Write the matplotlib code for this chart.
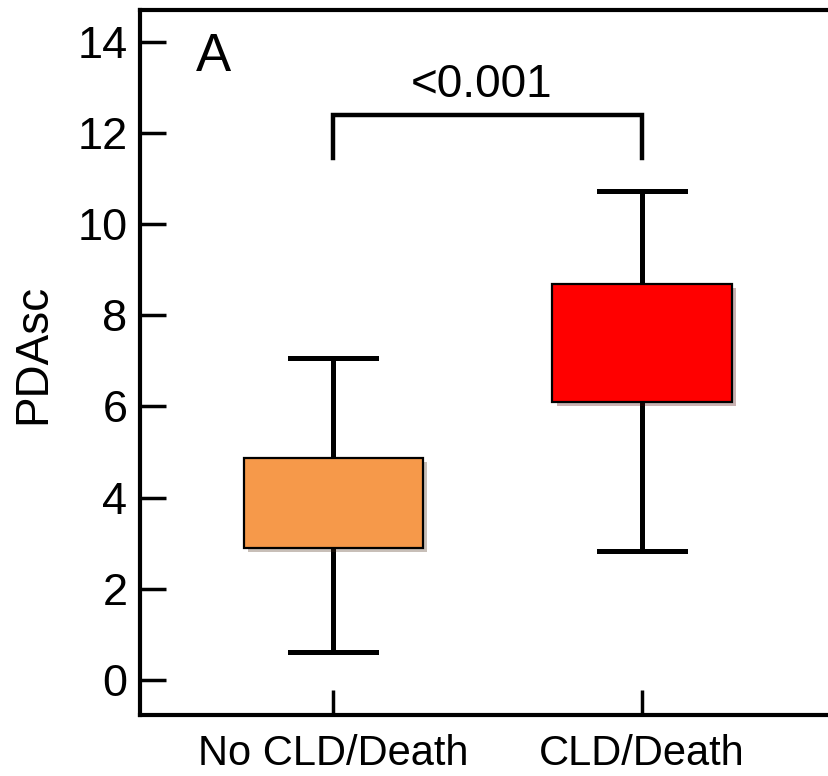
import matplotlib.pyplot as plt
import matplotlib.patheffects as pe

plt.rcParams['font.family'] = ['Liberation Sans', 'DejaVu Sans']

# данные ящиков
groups = ["No CLD/Death", "CLD/Death"]
q1 = [2.90, 6.10]
q3 = [4.87, 8.69]
whislo = [0.61, 2.83]
whishi = [7.07, 10.73]
med = [3.9, 7.4]  # медиана на рисунке не показана
colors = ["#f6994a", "#ff0000"]
p_text = "<0.001"
bracket_y = 12.4
bracket_low = 11.45
yticks = [0, 2, 4, 6, 8, 10, 12, 14]

fig = plt.figure(figsize=(8.29, 7.76), dpi=100)
ax = fig.add_axes([140 / 829, 1 - 715 / 776, 1 - 140 / 829, (715 - 10) / 776])

stats = []
for i in range(len(groups)):
    stats.append(dict(q1=q1[i], q3=q3[i], whislo=whislo[i], whishi=whishi[i],
                      med=med[i], label=groups[i]))

pos = [1, 2]
bp = ax.bxp(stats, positions=pos, widths=0.58, capwidths=0.28,
            showfliers=False, patch_artist=True,
            boxprops=dict(linewidth=1.6, edgecolor="black"),
            whiskerprops=dict(linewidth=3.6, color="black"),
            capprops=dict(linewidth=3.6, color="black"),
            medianprops=dict(visible=False))
for patch, c in zip(bp["boxes"], colors):
    patch.set_facecolor(c)
    patch.set_zorder(3)
    patch.set_path_effects([pe.SimplePatchShadow(offset=(3, -3), alpha=0.3),
                            pe.Normal()])
for w in bp["whiskers"]:
    w.set_zorder(2)

# скобка с p-значением
ax.plot([pos[0], pos[0], pos[1], pos[1]],
        [bracket_low, bracket_y, bracket_y, bracket_low],
        color="black", linewidth=3.2, solid_joinstyle="miter", clip_on=False)
ax.text((pos[0] + pos[1]) / 2 - 0.02, 12.79, p_text, ha="center", va="baseline",
        fontsize=33)
ax.text(0.555, 13.67, "A", ha="left", va="center", fontsize=38)

ax.set_xlim(0.375, 2.605)
ax.set_ylim(-0.77, 14.70)
ax.set_yticks(yticks)
ax.set_xticks(pos)
ax.set_xticklabels(groups)
ax.set_ylabel("PDAsc", fontsize=33)
ax.yaxis.set_label_coords(-0.123, 0.512)

ax.tick_params(axis="y", direction="in", length=19, width=2.5, labelsize=32.5, pad=9)
ax.tick_params(axis="x", direction="in", length=18, width=2.5, labelsize=30, pad=14)
for s in ["left", "bottom", "top"]:
    ax.spines[s].set_linewidth(3)
ax.spines["right"].set_visible(False)

plt.savefig("out.png", dpi=100)
plt.close()
